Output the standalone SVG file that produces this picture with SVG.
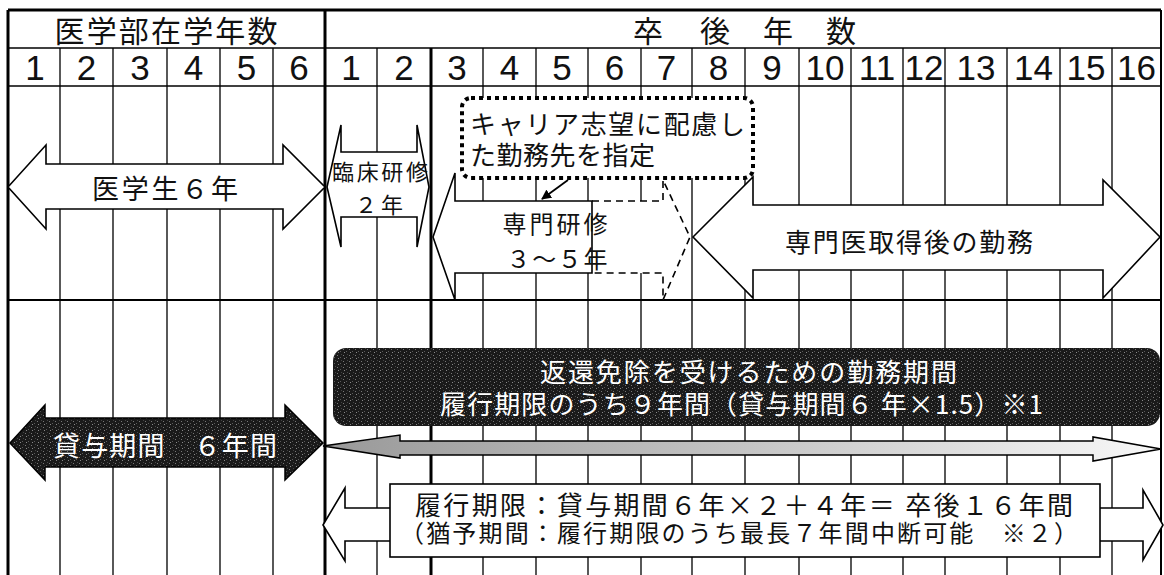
<svg xmlns="http://www.w3.org/2000/svg" width="1164" height="575" viewBox="0 0 1164 575">
<style>
.thin{stroke:#000;stroke-width:1.3;fill:none}
.thick{stroke:#000;stroke-width:3;fill:none}
.num{font-family:"Liberation Sans",Arial,sans-serif;font-size:35px;fill:#111;text-anchor:middle}
.jp{font-family:"Noto Sans CJK JP","Noto Sans CJK SC",sans-serif;fill:#111;dominant-baseline:central}
.wt{font-family:"Noto Sans CJK JP","Noto Sans CJK SC",sans-serif;fill:#fff;dominant-baseline:central}
.arw{fill:#fff;stroke:#000;stroke-width:1.6;stroke-linejoin:miter}
.mid{text-anchor:middle}
</style>
<defs>
<pattern id="noise" width="6" height="6" patternUnits="userSpaceOnUse">
<rect width="6" height="6" fill="#1a1a1a"/>
<rect x="1" y="1" width="1" height="1" fill="#777"/>
<rect x="4" y="3" width="1" height="1" fill="#5a5a5a"/>
<rect x="2" y="4" width="1" height="1" fill="#888"/>
<rect x="5" y="0" width="1" height="1" fill="#444"/>
</pattern>
<linearGradient id="gray" x1="0" y1="0" x2="1" y2="0">
<stop offset="0" stop-color="#999"/>
<stop offset="0.5" stop-color="#c4c4c4"/>
<stop offset="1" stop-color="#f8f8f8"/>
</linearGradient>
<marker id="ah" markerWidth="10" markerHeight="10" refX="9" refY="5" orient="auto" markerUnits="userSpaceOnUse">
<path d="M0,0 L10,5 L0,10 Z" fill="#000"/>
</marker>
</defs>
<rect width="1164" height="575" fill="#fff"/>

<g id="grid">
<line class="thick" x1="8" y1="10" x2="1161" y2="10"/>
<line class="thin" x1="8" y1="48" x2="1161" y2="48" style="stroke-width:1.6"/>
<line class="thin" x1="8" y1="86" x2="1161" y2="86" style="stroke-width:1.6"/>
<line class="thin" x1="8" y1="300" x2="1161" y2="300" style="stroke-width:1.8"/>
<path class="thin" d="M60,48V575M113,48V575M167,48V575M220,48V575M273,48V575M377,48V575M483,48V575M536,48V575M588,48V575M641,48V575M692,48V575M745,48V575M799,48V575M851,48V575M903,48V575M945,48V575M1007,48V575M1060,48V575M1112,48V575"/>
<line class="thick" x1="8" y1="10" x2="8" y2="575"/>
<line class="thick" x1="325" y1="10" x2="325" y2="575"/>
<line class="thick" x1="431" y1="48" x2="431" y2="575"/>
<line class="thin" x1="1161" y1="10" x2="1161" y2="575" style="stroke-width:2"/>
</g>

<g id="header">
<text class="jp mid" x="166" y="29" font-size="30" textLength="223">医学部在学年数</text>
<text class="jp mid" x="648" y="29" font-size="30">卒</text>
<text class="jp mid" x="715" y="29" font-size="30">後</text>
<text class="jp mid" x="778" y="29" font-size="30">年</text>
<text class="jp mid" x="841" y="29" font-size="30">数</text>
</g>

<g id="year-numbers">
<text class="num" x="35" y="80">1</text>
<text class="num" x="86.5" y="80">2</text>
<text class="num" x="140" y="80">3</text>
<text class="num" x="193.5" y="80">4</text>
<text class="num" x="246.5" y="80">5</text>
<text class="num" x="299" y="80">6</text>
<text class="num" x="351" y="80">1</text>
<text class="num" x="404" y="80">2</text>
<text class="num" x="457" y="80">3</text>
<text class="num" x="509.5" y="80">4</text>
<text class="num" x="562" y="80">5</text>
<text class="num" x="614.5" y="80">6</text>
<text class="num" x="666.5" y="80">7</text>
<text class="num" x="718.5" y="80">8</text>
<text class="num" x="772" y="80">9</text>
<text class="num" x="825" y="80">10</text>
<text class="num" x="877" y="80">11</text>
<text class="num" x="924" y="80">12</text>
<text class="num" x="976" y="80">13</text>
<text class="num" x="1033.5" y="80">14</text>
<text class="num" x="1086" y="80">15</text>
<text class="num" x="1136.5" y="80">16</text>
</g>

<g id="node-igakusei">
<polygon class="arw" points="8,187 46,145 46,164 283,164 283,145 325,187 283,229 283,209 46,209 46,229"/>
<text class="jp mid" x="165" y="187" font-size="27" textLength="146">医学生６年</text>
</g>

<g id="node-rinsho">
<polygon class="arw" points="327,187 341,125 341,152 417,152 417,125 429,187 417,247 417,217 341,217 341,247"/>
<text class="jp mid" x="380" y="170" font-size="22" textLength="96">臨床研修</text>
<text class="jp mid" x="379" y="203" font-size="22" textLength="48">２年</text>
</g>

<g id="node-senmon">
<polygon points="590,201 663,201 663,180 690,237 663,300 663,273 590,273" fill="#fff"/>
<path d="M592,201 L663,201 L663,180 L690,237 L663,300 L663,273 L592,273" fill="none" stroke="#000" stroke-width="1.6" stroke-dasharray="7 5"/>
<path class="arw" d="M592,201 L455,201 L455,173 L433,237 L455,300 L455,273 L592,273 Z"/>
<text class="jp mid" x="555" y="222" font-size="24" textLength="105">専門研修</text>
<text class="jp mid" x="557" y="257" font-size="24" textLength="101">３～５年</text>
</g>

<g id="node-career">
<rect x="462" y="98" width="291" height="80" rx="9" fill="#fff" stroke="#000" stroke-width="4" stroke-dasharray="4 4"/>
<text class="jp" x="470" y="122" font-size="26" textLength="275">キャリア志望に配慮し</text>
<text class="jp" x="470" y="153" font-size="26" textLength="185">た勤務先を指定</text>
</g>

<g id="node-senmoni">
<polygon class="arw" points="693,237 753,177 753,205 1103,205 1103,180 1160,237 1103,298 1103,270 753,270 753,298"/>
<text class="jp mid" x="909" y="240" font-size="26" textLength="248">専門医取得後の勤務</text>
</g>

<g id="node-henkan">
<rect x="333" y="348" width="827" height="78" rx="13" fill="url(#noise)"/>
<text class="wt" x="540" y="370" font-size="26" textLength="417">返還免除を受けるための勤務期間</text>
<text class="wt" x="440" y="402" font-size="26" textLength="603">履行期限のうち９年間（貸与期間６ 年×1.5）※1</text>
</g>

<g id="node-taiyo">
<polygon points="10,443 45,405 45,418 285,418 285,405 323,443 285,480 285,467 45,467 45,480" fill="url(#noise)" stroke="#000" stroke-width="1.5"/>
<text class="wt" x="53" y="444" font-size="27" textLength="224">貸与期間　６年間</text>
</g>

<g id="node-gray-arrow">
<polygon points="323,446 400,435 400,441 1093,441 1093,437 1161,449 1093,461 1093,455 400,455 400,458" fill="url(#gray)" stroke="#000" stroke-width="1.5"/>
</g>

<g id="node-rikou">
<polygon class="arw" points="323,525 345,488 345,508 1143,508 1143,490 1163,525 1143,560 1143,541 345,541 345,561"/>
<rect x="390" y="484" width="710" height="73" fill="#fff" stroke="#000" stroke-width="1.6"/>
<text class="jp" x="415" y="503" font-size="26" textLength="658">履行期限：貸与期間６年×２＋４年＝ 卒後１６年間</text>
<text class="jp" x="400" y="531" font-size="24" textLength="678">（猶予期間：履行期限のうち最長７年間中断可能　※２）</text>
</g>

<g id="connectors">
<line x1="568" y1="180" x2="542" y2="199" stroke="#000" stroke-width="1.8" marker-end="url(#ah)"/>
</g>
</svg>
